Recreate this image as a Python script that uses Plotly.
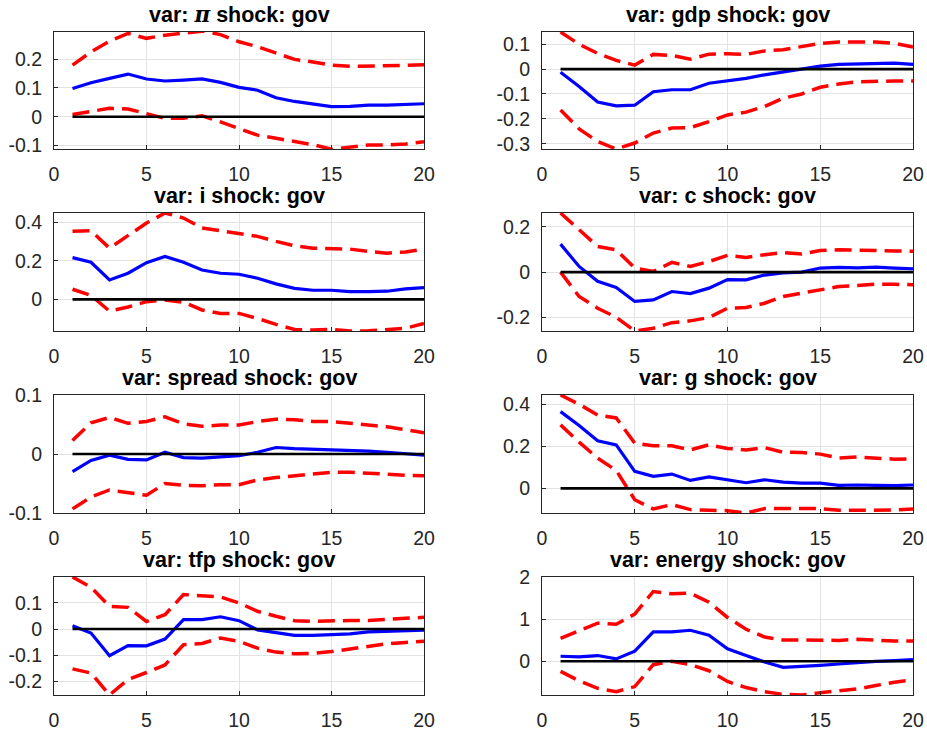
import plotly.graph_objects as go

# Impulse responses to a government spending shock: median (blue) and
# error bands (red dashed), horizons 1..20.
horizon = list(range(1, 21))

pi_mid = [0.098, 0.118, 0.133, 0.148, 0.131, 0.124, 0.127, 0.131, 0.119, 0.102,
          0.092, 0.066, 0.053, 0.043, 0.035, 0.036, 0.040, 0.040, 0.043, 0.045]
pi_hi = [0.179, 0.225, 0.262, 0.289, 0.272, 0.283, 0.290, 0.297, 0.285, 0.260,
         0.243, 0.220, 0.199, 0.190, 0.179, 0.175, 0.175, 0.175, 0.178, 0.180]
pi_lo = [0.008, 0.020, 0.029, 0.027, 0.012, -0.006, -0.005, 0.003, -0.018, -0.040,
         -0.064, -0.075, -0.087, -0.097, -0.113, -0.105, -0.098, -0.098, -0.095, -0.087]

gdp_mid = [-0.013, -0.070, -0.132, -0.148, -0.145, -0.091, -0.083, -0.083, -0.057, -0.048,
           -0.037, -0.023, -0.011, 0.000, 0.012, 0.019, 0.021, 0.025, 0.024, 0.019]
gdp_hi = [0.149, 0.100, 0.063, 0.035, 0.016, 0.059, 0.055, 0.040, 0.060, 0.062,
          0.059, 0.073, 0.078, 0.089, 0.103, 0.109, 0.110, 0.109, 0.103, 0.089]
gdp_lo = [-0.164, -0.240, -0.291, -0.321, -0.297, -0.257, -0.237, -0.235, -0.211, -0.184,
          -0.173, -0.150, -0.117, -0.100, -0.073, -0.060, -0.051, -0.048, -0.048, -0.048]

i_mid = [0.216, 0.192, 0.100, 0.135, 0.190, 0.222, 0.192, 0.152, 0.135, 0.130,
         0.109, 0.080, 0.057, 0.047, 0.047, 0.040, 0.040, 0.042, 0.054, 0.061]
i_hi = [0.352, 0.355, 0.265, 0.330, 0.395, 0.447, 0.421, 0.369, 0.355, 0.343,
        0.326, 0.300, 0.277, 0.265, 0.262, 0.260, 0.248, 0.239, 0.245, 0.260]
i_lo = [0.052, 0.020, -0.061, -0.040, -0.012, -0.003, -0.015, -0.055, -0.073, -0.073,
        -0.099, -0.130, -0.156, -0.159, -0.156, -0.164, -0.163, -0.156, -0.150, -0.125]

c_mid = [0.124, 0.025, -0.041, -0.068, -0.130, -0.123, -0.086, -0.095, -0.071, -0.033,
         -0.034, -0.013, -0.003, 0.000, 0.018, 0.021, 0.019, 0.022, 0.018, 0.015]
c_hi = [0.262, 0.190, 0.114, 0.099, 0.018, 0.003, 0.043, 0.025, 0.047, 0.074,
        0.065, 0.077, 0.087, 0.080, 0.096, 0.099, 0.096, 0.096, 0.094, 0.092]
c_lo = [0.000, -0.108, -0.160, -0.200, -0.261, -0.249, -0.224, -0.216, -0.201, -0.160,
        -0.157, -0.138, -0.108, -0.093, -0.076, -0.064, -0.059, -0.053, -0.054, -0.056]

spread_mid = [-0.030, -0.011, -0.002, -0.009, -0.010, 0.003, -0.006, -0.007, -0.005, -0.003,
              0.003, 0.011, 0.009, 0.008, 0.008, 0.006, 0.005, 0.003, 0.001, -0.002]
spread_hi = [0.023, 0.053, 0.062, 0.052, 0.055, 0.063, 0.051, 0.047, 0.049, 0.049,
             0.055, 0.059, 0.058, 0.055, 0.055, 0.052, 0.049, 0.046, 0.041, 0.036]
spread_lo = [-0.093, -0.073, -0.061, -0.066, -0.070, -0.050, -0.053, -0.054, -0.052, -0.052,
             -0.044, -0.040, -0.037, -0.034, -0.031, -0.031, -0.033, -0.034, -0.036, -0.037]

g_mid = [0.365, 0.299, 0.226, 0.207, 0.081, 0.057, 0.068, 0.038, 0.055, 0.040,
         0.027, 0.041, 0.030, 0.025, 0.025, 0.014, 0.016, 0.014, 0.013, 0.016]
g_hi = [0.444, 0.400, 0.349, 0.335, 0.215, 0.203, 0.203, 0.183, 0.207, 0.190,
        0.183, 0.194, 0.172, 0.171, 0.163, 0.144, 0.149, 0.144, 0.139, 0.141]
g_lo = [0.302, 0.220, 0.144, 0.085, -0.054, -0.098, -0.077, -0.101, -0.104, -0.106,
        -0.117, -0.096, -0.096, -0.098, -0.096, -0.104, -0.104, -0.104, -0.103, -0.098]

tfp_mid = [0.013, -0.015, -0.102, -0.063, -0.064, -0.038, 0.036, 0.036, 0.047, 0.032,
           -0.003, -0.015, -0.024, -0.024, -0.022, -0.018, -0.011, -0.008, -0.004, -0.004]
tfp_hi = [0.199, 0.160, 0.087, 0.083, 0.029, 0.055, 0.132, 0.129, 0.123, 0.100,
          0.068, 0.049, 0.032, 0.029, 0.032, 0.033, 0.033, 0.038, 0.042, 0.045]
tfp_lo = [-0.152, -0.168, -0.252, -0.193, -0.166, -0.137, -0.060, -0.055, -0.034, -0.047,
          -0.073, -0.088, -0.094, -0.093, -0.086, -0.077, -0.066, -0.056, -0.051, -0.047]

energy_mid = [0.120, 0.104, 0.136, 0.056, 0.240, 0.696, 0.696, 0.736, 0.616, 0.296,
              0.136, -0.016, -0.144, -0.128, -0.096, -0.064, -0.024, 0.000, 0.016, 0.040]
energy_hi = [0.544, 0.720, 0.904, 0.880, 1.120, 1.656, 1.600, 1.616, 1.400, 1.040,
             0.760, 0.576, 0.504, 0.504, 0.496, 0.496, 0.520, 0.496, 0.480, 0.480]
energy_lo = [-0.240, -0.464, -0.640, -0.720, -0.600, -0.080, 0.000, -0.080, -0.224, -0.480,
             -0.624, -0.720, -0.784, -0.800, -0.744, -0.704, -0.656, -0.576, -0.496, -0.440]

panel_titles = [
    "var: <span style=\"font-family:'DejaVu Serif'\"><i>π</i></span> shock: gov",
    "var: gdp shock: gov",
    "var: i shock: gov",
    "var: c shock: gov",
    "var: spread shock: gov",
    "var: g shock: gov",
    "var: tfp shock: gov",
    "var: energy shock: gov",
]
panel_series = [
    (pi_mid, pi_hi, pi_lo),
    (gdp_mid, gdp_hi, gdp_lo),
    (i_mid, i_hi, i_lo),
    (c_mid, c_hi, c_lo),
    (spread_mid, spread_hi, spread_lo),
    (g_mid, g_hi, g_lo),
    (tfp_mid, tfp_hi, tfp_lo),
    (energy_mid, energy_hi, energy_lo),
]
y_ranges = [
    [-0.112, 0.294], [-0.321, 0.149], [-0.164, 0.447], [-0.261, 0.262],
    [-0.1, 0.1], [-0.117, 0.444], [-0.252, 0.199], [-0.8, 2.0],
]
y_ticks = [
    [-0.1, 0, 0.1, 0.2], [-0.3, -0.2, -0.1, 0, 0.1], [0, 0.2, 0.4], [-0.2, 0, 0.2],
    [-0.1, 0, 0.1], [0, 0.2, 0.4], [-0.2, -0.1, 0, 0.1], [0, 1, 2],
]
x_ticks = [0, 5, 10, 15, 20]

W, H = 927, 731
col_px = [(54, 424), (542, 913)]
row_px = [(32, 149), (213, 331), (395, 513), (577, 695)]

AX = "#262626"
GRID = "#e3e3e3"
TICK_FONT = dict(family="Liberation Sans, Arial, sans-serif", size=19.5, color=AX)


def fmt(v):
    return "%g" % v


fig = go.Figure()
layout = dict(
    template="none",
    width=W, height=H, margin=dict(l=0, r=0, t=0, b=0, pad=0),
    paper_bgcolor="white", plot_bgcolor="white", showlegend=False,
    annotations=[],
)

for k, (title, (mid, hi, lo)) in enumerate(zip(panel_titles, panel_series)):
    r, c = divmod(k, 2)
    n = k + 1
    xa = "x" if n == 1 else f"x{n}"
    ya = "y" if n == 1 else f"y{n}"
    x0, x1 = col_px[c]
    yt, yb = row_px[r]

    layout[f"xaxis{'' if n == 1 else n}"] = dict(
        domain=[x0 / W, x1 / W], anchor=ya, range=[0, 20], automargin=False,
        tickvals=x_ticks, ticktext=[str(t) for t in x_ticks],
        showgrid=True, gridcolor=GRID, gridwidth=1, zeroline=False,
        showline=True, mirror=True, linecolor=AX, linewidth=1,
        ticks="inside", ticklen=4, tickcolor=AX, tickfont=TICK_FONT,
        ticklabelstandoff=8,
    )
    layout[f"yaxis{'' if n == 1 else n}"] = dict(
        domain=[1 - yb / H, 1 - yt / H], anchor=xa, range=y_ranges[k], automargin=False,
        tickvals=y_ticks[k], ticktext=[fmt(t) for t in y_ticks[k]],
        showgrid=True, gridcolor=GRID, gridwidth=1, zeroline=False,
        showline=True, mirror=True, linecolor=AX, linewidth=1,
        ticks="inside", ticklen=4, tickcolor=AX, tickfont=TICK_FONT,
        ticklabelstandoff=7,
    )

    fig.add_trace(go.Scatter(x=horizon, y=mid, mode="lines", xaxis=xa, yaxis=ya,
                             line=dict(color="#0000ff", width=3.2)))
    fig.add_trace(go.Scatter(x=horizon, y=hi, mode="lines", xaxis=xa, yaxis=ya,
                             line=dict(color="#ff0000", width=3.5, dash="17px,8px")))
    fig.add_trace(go.Scatter(x=horizon, y=lo, mode="lines", xaxis=xa, yaxis=ya,
                             line=dict(color="#ff0000", width=3.5, dash="17px,8px")))
    fig.add_trace(go.Scatter(x=horizon, y=[0] * len(horizon), mode="lines",
                             xaxis=xa, yaxis=ya, line=dict(color="black", width=2.6)))

    layout["annotations"].append(dict(
        text=f"<b>{title}</b>", xref="paper", yref="paper",
        x=(x0 + x1) / 2 / W, y=1 - (yt - 3) / H, xanchor="center", yanchor="bottom",
        showarrow=False,
        font=dict(family="Liberation Sans, Arial, sans-serif", size=21.5, color="black"),
    ))

fig.update_layout(**layout)
fig.write_html("out.html")
